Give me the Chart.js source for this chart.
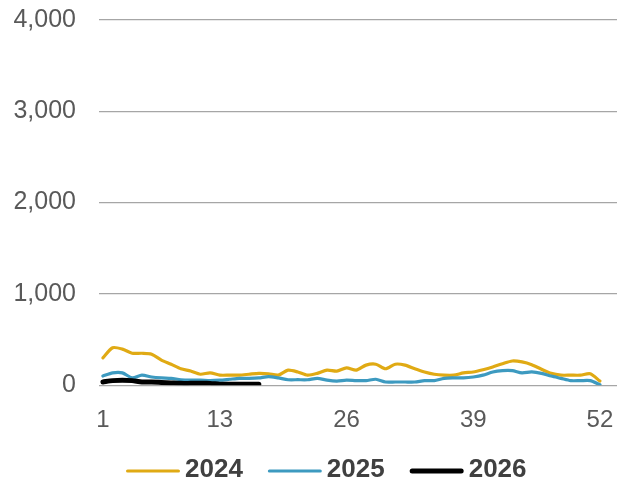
<!DOCTYPE html>
<html lang="en">
<head>
    <meta charset="UTF-8">
    <title>Weekly counts 2024-2026</title>
    <script src="https://cdn.jsdelivr.net/npm/chart.js"></script>
    <style>
        html, body {
            margin: 0;
            padding: 0;
            background: #ffffff;
        }
        .chart-box {
            width: 617px;
            height: 484px;
        }
    </style>
</head>
<body>

<div class="chart-box">
    <canvas id="weeklyChart"></canvas>
</div>

<script>
    // Week numbers and values
    const weeks = [];
    for (let w = 1; w <= 52; w++) weeks.push(w);

    const tickWeeks = [1, 13, 26, 39, 52];
    const yTicks = [0, 1000, 2000, 3000, 4000];

    const values2024 = [300, 410, 395, 350, 350, 340, 275, 230, 180, 155, 120, 135, 110, 110, 110, 120, 130,
        125, 110, 165, 145, 110, 130, 165, 155, 190, 165, 220, 230, 180, 230, 220, 180, 145, 120,
        110, 110, 135, 145, 170, 200, 235, 265, 255, 225, 175, 130, 110, 110, 110, 125, 45];
    const values2025 = [100, 135, 135, 80, 110, 90, 80, 75, 60, 55, 55, 50, 55, 65, 75, 75, 80,
        95, 80, 60, 60, 60, 75, 55, 45, 55, 50, 50, 65, 35, 35, 35, 35, 50, 50,
        75, 80, 80, 90, 110, 145, 160, 160, 135, 145, 130, 100, 75, 50, 50, 50, 5];
    const values2026 = [35, 50, 55, 50, 35, 35, 30, 25, 20, 20, 20, 20, 10, 10, 10, 10, 10];

    const toPoints = vals => vals.map((v, i) => ({ x: weeks[i], y: v }));

    // Legend drawn by hand so the line/text spacing matches the original
    const yearLegend = {
        id: 'yearLegend',
        afterDraw(chart) {
            const c = chart.ctx;
            const lineLen = 54, textGap = 5, itemGap = 25;
            const y = chart.height - 14;
            c.save();
            c.font = 'bold 26px "Liberation Sans"';
            c.textBaseline = 'middle';
            c.textAlign = 'left';
            let x = 126;
            chart.data.datasets.forEach(ds => {
                c.beginPath();
                c.lineCap = 'round';
                c.lineWidth = ds.borderWidth;
                c.strokeStyle = ds.borderColor;
                c.moveTo(x + ds.borderWidth / 2, y + 1);
                c.lineTo(x + lineLen - ds.borderWidth / 2, y + 1);
                c.stroke();
                x += lineLen + textGap;
                c.fillStyle = '#404040';
                c.fillText(ds.label, x, y);
                x += c.measureText(ds.label).width + itemGap;
            });
            c.restore();
        }
    };

    const ctx = document.getElementById('weeklyChart').getContext('2d');
    const weeklyChart = new Chart(ctx, {
        type: 'line',
        data: {
            datasets: [
                {
                    label: '2024',
                    data: toPoints(values2024),
                    borderColor: '#e0aa14',
                    backgroundColor: '#e0aa14',
                    borderWidth: 3.2,
                    order: 3
                },
                {
                    label: '2025',
                    data: toPoints(values2025),
                    borderColor: '#3d9ac0',
                    backgroundColor: '#3d9ac0',
                    borderWidth: 3.2,
                    order: 2
                },
                {
                    label: '2026',
                    data: toPoints(values2026),
                    borderColor: '#000000',
                    backgroundColor: '#000000',
                    borderWidth: 5,
                    order: 1
                }
            ]
        },
        plugins: [yearLegend],
        options: {
            responsive: true,
            maintainAspectRatio: false,
            animation: false,
            layout: {
                padding: { top: 20, right: 0, bottom: 36, left: 0 }
            },
            elements: {
                point: { radius: 0 },
                line: { tension: 0.25, borderCapStyle: 'round', borderJoinStyle: 'round' }
            },
            scales: {
                x: {
                    type: 'linear',
                    min: 0.6,
                    max: 53.75,
                    afterBuildTicks: scale => {
                        scale.ticks = tickWeeks.map(v => ({ value: v }));
                    },
                    afterFit: scale => {
                        scale.paddingLeft = 0;
                        scale.paddingRight = 0;
                    },
                    grid: { display: false },
                    border: { display: false },
                    ticks: {
                        color: '#595959',
                        font: { family: 'Liberation Sans', size: 24 },
                        padding: 13,
                        maxRotation: 0
                    }
                },
                y: {
                    min: 0,
                    max: 4000,
                    afterBuildTicks: scale => {
                        scale.ticks = yTicks.map(v => ({ value: v }));
                    },
                    afterFit: scale => {
                        scale.width = 99;
                        scale.paddingTop = 0;
                        scale.paddingBottom = 0;
                    },
                    border: { display: false },
                    grid: {
                        color: '#a6a6a6',
                        lineWidth: 1.3,
                        drawTicks: false
                    },
                    ticks: {
                        color: '#595959',
                        font: { family: 'Liberation Sans', size: 25 },
                        padding: 23,
                        callback: v => v.toLocaleString('en-US')
                    }
                }
            },
            plugins: {
                tooltip: { enabled: false },
                legend: { display: false }
            }
        }
    });
</script>

</body>
</html>
